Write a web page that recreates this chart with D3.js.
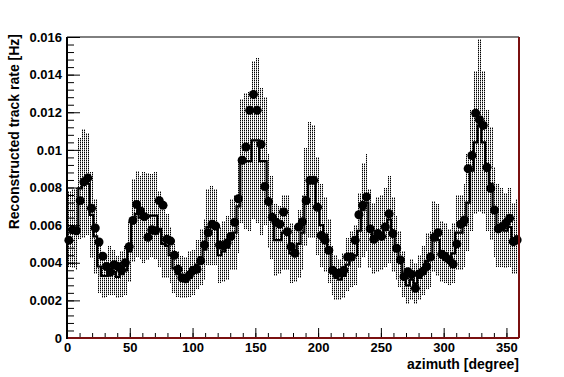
<!DOCTYPE html>
<html>
<head>
<meta charset="utf-8">
<script src="https://cdn.jsdelivr.net/npm/d3@7"></script>
<style>
  body { margin: 0; background: #fff; }
  svg { display: block; }
  text { font-family: "Liberation Sans", Arial, sans-serif; font-weight: bold; fill: #000; }
</style>
</head>
<body>
<svg class="chart"></svg>
<script>
// azimuth bins, 3 degrees wide, 120 of them
var binWidth = 3;
var binLow = d3.range(0, 360, binWidth);

// measured rate per bin (in 1e-3 Hz)
var measured = [
  5.2, 5.75, 5.7, 7.3, 8.3, 8.5, 6.9, 5.85, 5.1, 4.35,
  3.8, 3.5, 3.9, 3.8, 3.6, 4.0, 4.85, 6.25, 7.1, 6.75,
  6.45, 5.35, 5.75, 5.7, 7.3, 7.05, 5.25, 5.15, 4.4, 3.65,
  3.2, 3.15, 3.35, 3.6, 3.65, 4.1, 4.95, 5.6, 6.05, 5.95,
  4.95, 4.9, 5.05, 5.4, 6.15, 7.4, 9.45, 10.15, 12.1, 12.95,
  12.1, 10.3, 8.05, 7.25, 6.42, 6.15, 6.05, 6.7, 5.65, 4.85,
  4.5, 5.9, 6.18, 7.3, 8.38, 8.38, 6.95, 5.45, 5.2, 4.66,
  3.6, 3.44, 3.45, 3.6, 4.3, 4.3, 5.2, 6.55, 7.05, 7.5,
  5.8, 5.25, 5.55, 5.4, 5.9, 6.6, 5.55, 4.77, 4.15, 3.26,
  3.52, 3.38, 2.64, 3.4, 3.55, 3.8, 4.3, 5.35, 5.6, 4.45,
  4.3, 4.15, 3.93, 5.0, 6.05, 6.27, 9.0, 9.7, 11.95, 11.6,
  11.3, 9.07, 7.95, 6.8, 5.8, 5.92, 6.1, 6.36, 5.12, 5.21
];

// expected rate histogram (in 1e-3 Hz)
var expected = [
  5.8, 5.8, 5.8, 7.95, 8.2, 8.2, 6.55, 5.4, 3.8, 3.3,
  3.3, 3.6, 3.5, 3.25, 3.4, 3.6, 4.6, 6.25, 6.6, 6.4,
  6.4, 6.45, 6.5, 6.5, 5.8, 5.0, 4.9, 4.4, 3.7, 3.4,
  3.25, 3.2, 3.4, 3.5, 3.9, 4.3, 4.7, 5.9, 6.0, 5.9,
  4.4, 4.6, 4.8, 5.5, 5.6, 7.0, 9.4, 9.4, 9.4, 10.5,
  10.5, 9.4, 9.4, 7.3, 6.4, 5.2, 5.2, 5.6, 5.6, 4.5,
  4.5, 5.0, 5.6, 7.5, 8.4, 8.3, 7.0, 6.0, 5.5, 4.6,
  3.6, 3.2, 3.1, 3.3, 3.9, 4.2, 4.4, 5.7, 6.8, 7.2,
  5.8, 5.3, 5.5, 5.6, 5.9, 6.3, 5.5, 4.8, 4.2, 3.4,
  2.8, 3.1, 2.9, 3.2, 3.6, 4.1, 4.2, 5.4, 5.2, 4.6,
  4.5, 4.3, 4.5, 5.6, 5.6, 6.0, 7.2, 8.9, 10.4, 11.3,
  10.4, 8.9, 8.2, 6.7, 6.0, 5.9, 5.7, 5.9, 5.3, 5.4
];

// uncertainty of the expected rate (in 1e-3 Hz)
var expectedErr = [
  2.0, 2.1, 2.2, 2.7, 2.9, 2.7, 2.3, 2.0, 1.4, 1.2,
  1.1, 1.3, 1.2, 1.1, 1.2, 1.3, 1.6, 2.2, 2.3, 2.2,
  2.4, 2.3, 2.2, 2.3, 2.0, 1.8, 1.7, 1.5, 1.3, 1.2,
  1.1, 1.1, 1.2, 1.2, 1.3, 1.5, 1.6, 2.0, 2.1, 2.0,
  1.5, 1.6, 1.7, 1.9, 2.0, 2.5, 3.3, 3.6, 3.7, 4.2,
  4.4, 3.9, 3.4, 2.5, 2.2, 1.9, 1.8, 2.0, 2.0, 1.6,
  1.5, 1.8, 2.0, 2.6, 3.1, 3.0, 2.6, 2.2, 2.0, 1.7,
  1.3, 1.2, 1.1, 1.2, 1.4, 1.5, 1.6, 2.0, 2.5, 2.6,
  2.1, 1.9, 2.0, 2.0, 2.1, 2.3, 2.0, 1.7, 1.5, 1.2,
  1.0, 1.1, 1.1, 1.2, 1.3, 1.5, 1.5, 1.9, 1.9, 1.6,
  1.6, 1.5, 1.6, 2.0, 2.0, 2.2, 2.6, 3.2, 3.8, 4.6,
  3.8, 3.2, 3.0, 2.4, 2.2, 2.1, 2.0, 2.1, 1.9, 2.0
];

var xTicks = [0, 50, 100, 150, 200, 250, 300, 350];
var yTicks = [0, 0.002, 0.004, 0.006, 0.008, 0.01, 0.012, 0.014, 0.016];

var width = 564;
var height = 377;
var margin = {top: 37, right: 45, bottom: 39, left: 67};

var svg = d3.select(".chart").attr("width", width).attr("height", height);

var x = d3.scaleLinear().domain([0, 360]).range([margin.left, width - margin.right]);
var y = d3.scaleLinear().domain([0, 0.016]).range([height - margin.bottom, margin.top]);
var mHz = 1e-3;

// stipple pattern like ROOT fill style
var defs = svg.append("defs");
var pat = defs.append("pattern")
  .attr("id", "dots")
  .attr("patternUnits", "userSpaceOnUse")
  .attr("width", 2)
  .attr("height", 2);
pat.append("rect").attr("x", 0).attr("y", 0).attr("width", 1).attr("height", 1).attr("fill", "#000");
pat.append("rect").attr("x", 0).attr("y", 1).attr("width", 1).attr("height", 1).attr("fill", "#9a9a9a");

// error band
svg.append("g").selectAll("rect")
  .data(binLow)
  .join("rect")
  .attr("x", function(d) { return x(d); })
  .attr("width", function(d) { return x(d + binWidth) - x(d); })
  .attr("y", function(d, i) { return y((expected[i] + expectedErr[i]) * mHz); })
  .attr("height", function(d, i) { return y((expected[i] - expectedErr[i]) * mHz) - y((expected[i] + expectedErr[i]) * mHz); })
  .attr("fill", "url(#dots)")
  .attr("shape-rendering", "crispEdges");

// step histogram
var steps = binLow.map(function(d, i) { return [d, expected[i]]; });
steps.push([360, expected[expected.length - 1]]);
var line = d3.line()
  .x(function(d) { return x(d[0]); })
  .y(function(d) { return y(d[1] * mHz); })
  .curve(d3.curveStepAfter);
svg.append("path")
  .datum(steps)
  .attr("d", line)
  .attr("fill", "none")
  .attr("stroke", "#000")
  .attr("stroke-width", 2.2);

// measured points
svg.append("g").selectAll("circle")
  .data(binLow)
  .join("circle")
  .attr("cx", function(d) { return x(d + binWidth / 2); })
  .attr("cy", function(d, i) { return y(measured[i] * mHz); })
  .attr("r", 4.5)
  .attr("fill", "#000");

// axes, ROOT style (ticks inside)
var fmtY = function(d) { return d === 0 ? "0" : String(+d.toFixed(3)); };

var yAxis = svg.append("g")
  .attr("transform", "translate(" + margin.left + ",0)")
  .call(d3.axisLeft(y).tickValues(yTicks).tickSize(-13).tickPadding(5).tickFormat(fmtY));
var yMinor = svg.append("g")
  .attr("transform", "translate(" + margin.left + ",0)")
  .call(d3.axisLeft(y).tickValues(d3.range(0, 0.0161, 0.0004)).tickSize(-7).tickFormat(""));

var xAxis = svg.append("g")
  .attr("transform", "translate(0," + (height - margin.bottom) + ")")
  .call(d3.axisBottom(x).tickValues(xTicks).tickSize(-10).tickPadding(5));
var xMinor = svg.append("g")
  .attr("transform", "translate(0," + (height - margin.bottom) + ")")
  .call(d3.axisBottom(x).tickValues(d3.range(0, 361, 10)).tickSize(-5).tickFormat(""));

[yAxis, yMinor, xAxis, xMinor].forEach(function(g) {
  g.select(".domain").remove();
  g.selectAll("line").attr("stroke", "#000").attr("stroke-width", 1);
  g.selectAll("text").attr("font-size", 13).attr("font-family", null).attr("fill", "#000");
});

// frame
svg.append("line")
  .attr("x1", x(0)).attr("x2", x(360)).attr("y1", y(0.016)).attr("y2", y(0.016))
  .attr("stroke", "#000").attr("stroke-width", 1);
svg.append("line")
  .attr("x1", x(0)).attr("x2", x(360)).attr("y1", y(0)).attr("y2", y(0))
  .attr("stroke", "#7a1010").attr("stroke-width", 2);
svg.append("line")
  .attr("x1", x(360)).attr("x2", x(360)).attr("y1", y(0.016)).attr("y2", y(0))
  .attr("stroke", "#7a1010").attr("stroke-width", 2);
svg.append("line")
  .attr("x1", x(0)).attr("x2", x(0)).attr("y1", y(0.016)).attr("y2", y(0) + 1)
  .attr("stroke", "#000").attr("stroke-width", 2);

// titles
svg.append("text")
  .attr("x", x(360))
  .attr("y", 369)
  .attr("text-anchor", "end")
  .attr("font-size", 14)
  .text("azimuth [degree]");

svg.append("text")
  .attr("transform", "translate(19," + 34 + ") rotate(-90)")
  .attr("text-anchor", "end")
  .attr("font-size", 14)
  .text("Reconstructed track rate [Hz]");
</script>
</body>
</html>
